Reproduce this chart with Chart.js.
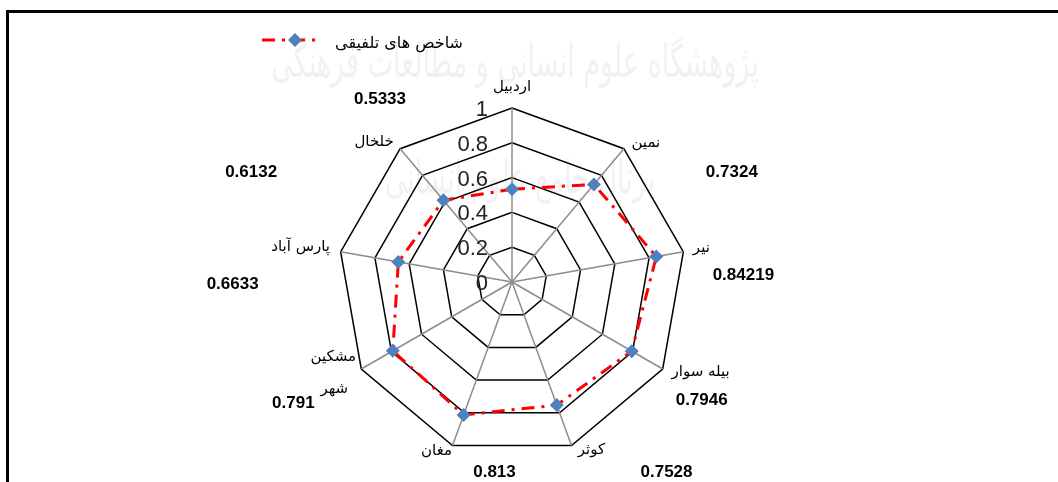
<!DOCTYPE html>
<html>
<head>
<meta charset="utf-8">
<script src="https://cdn.jsdelivr.net/npm/chart.js@4"></script>
<style>
  html, body { margin: 0; padding: 0; background: #fff; }
  #wrap { position: relative; width: 1058px; height: 482px; }
  #frame { position: absolute; left: 6px; top: 10px; right: -10px; bottom: -10px;
           border-left: 3px solid #000; border-top: 3px solid #000; pointer-events: none; }
</style>
</head>
<body>
<div id="wrap">
  <canvas id="radar_chart" width="1058" height="482"></canvas>
  <div id="frame"></div>
</div>
<script>
// data
const categories = ['اردبیل', 'نمین', 'نیر', 'بیله سوار', 'کوثر', 'مغان', ['مشکین', 'شهر'], 'پارس آباد', 'خلخال'];
const values = [0.5333, 0.7324, 0.84219, 0.7946, 0.7528, 0.813, 0.791, 0.6633, 0.6132];
const tickValues = [0, 0.2, 0.4, 0.6, 0.8, 1];
const tickLabels = ['0', '0.2', '0.4', '0.6', '0.8', '1'];
const seriesName = 'شاخص های تلفیقی';

// label placement, offsets from each outer vertex
const nameOffsets = [[0, -21], [22, -6], [18, -4], [38, 3], [20, 5], [-16, 6], [-28, -12], [-40, -5], [-26, -7]];
const valueOffsets = [[-132, -9], [108, 24], [60, 24], [39, 31], [95, 27], [42, 27], [-68, 34], [-108, 33], [-149, 24]];

const red = '#ff0000', blue = '#4f81bd';
const arabicFont = '"DejaVu Sans", sans-serif';

const labelsPlugin = {
  id: 'labels',
  beforeDraw(chart) {
    // faint watermark of the source page
    const ctx = chart.ctx;
    ctx.save();
    ctx.fillStyle = 'rgba(0,0,0,0.055)';
    ctx.textAlign = 'center';
    ctx.textBaseline = 'middle';
    ctx.font = '27px ' + arabicFont;
    ctx.translate(515, 65);
    ctx.scale(1, 1.7);
    ctx.fillText('پژوهشگاه علوم انسانی و مطالعات فرهنگی', 0, 0);
    ctx.fillText('پرتال جامع علوم انسانی', 5, 68);
    ctx.restore();
  },
  afterDraw(chart) {
    const ctx = chart.ctx, scale = chart.scales.r;
    ctx.save();
    ctx.textBaseline = 'middle';

    // tick labels, left of the vertical axis
    ctx.font = '22px "Liberation Sans", Arial, sans-serif';
    ctx.fillStyle = '#222';
    ctx.textAlign = 'right';
    tickValues.forEach((v, i) => {
      const y = scale.yCenter - scale.getDistanceFromCenterForValue(v) + 2;
      ctx.fillText(tickLabels[i], scale.xCenter - 24, y);
    });

    ctx.textAlign = 'center';
    categories.forEach((name, i) => {
      const p = scale.getPointPosition(i, scale.drawingArea);
      const lines = Array.isArray(name) ? name : [name];
      ctx.font = '15px ' + arabicFont;
      ctx.fillStyle = '#000';
      lines.forEach((ln, k) => {
        ctx.fillText(ln, p.x + nameOffsets[i][0] + k, p.y + nameOffsets[i][1] + k * 32);
      });
      ctx.font = 'bold 17px "Liberation Sans", Arial, sans-serif';
      ctx.fillText(String(values[i]), p.x + valueOffsets[i][0], p.y + valueOffsets[i][1]);
    });

    // legend: dash-dot line with a diamond marker
    ctx.strokeStyle = red;
    ctx.lineWidth = 3;
    ctx.setLineDash([13, 7, 3, 7]);
    ctx.beginPath();
    ctx.moveTo(262, 40);
    ctx.lineTo(318, 40);
    ctx.stroke();
    ctx.setLineDash([]);
    ctx.fillStyle = blue;
    ctx.beginPath();
    ctx.moveTo(295, 33); ctx.lineTo(302, 40); ctx.lineTo(295, 47); ctx.lineTo(288, 40);
    ctx.closePath();
    ctx.fill();
    ctx.fillStyle = '#000';
    ctx.font = '16px ' + arabicFont;
    ctx.fillText(seriesName, 399, 44);
    ctx.restore();
  }
};

const ctx = document.getElementById('radar_chart').getContext('2d');
new Chart(ctx, {
  type: 'radar',
  data: {
    labels: categories,
    datasets: [{
      label: seriesName,
      data: values,
      borderColor: red,
      borderWidth: 3,
      borderDash: [13, 7, 3, 7],
      fill: false,
      tension: 0,
      pointStyle: 'rectRot',
      pointRadius: 7,
      pointHoverRadius: 7,
      pointBackgroundColor: blue,
      pointBorderColor: blue,
      pointBorderWidth: 0
    }]
  },
  options: {
    responsive: false,
    animation: false,
    layout: { padding: { left: 338, right: 371, top: 108, bottom: 25 } },
    plugins: { legend: { display: false }, tooltip: { enabled: false } },
    scales: {
      r: {
        min: 0,
        max: 1,
        ticks: { stepSize: 0.2, display: false },
        pointLabels: { display: false },
        grid: { color: '#000', lineWidth: 1.5 },
        angleLines: { color: '#8c8c8c', lineWidth: 1.5 }
      }
    }
  },
  plugins: [labelsPlugin]
});
</script>
</body>
</html>
